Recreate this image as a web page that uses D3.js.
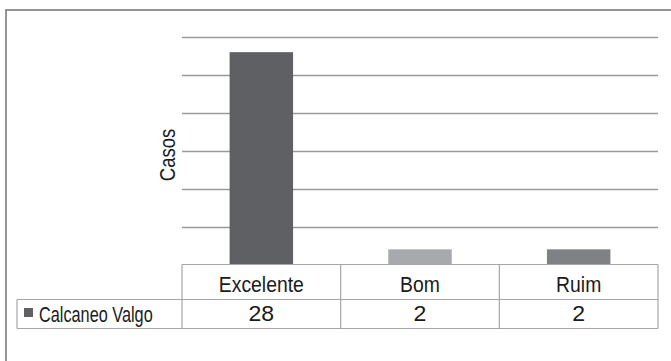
<!DOCTYPE html>
<html><head><meta charset="utf-8">
<script src="https://cdn.jsdelivr.net/npm/d3@7"></script>
<style>
html,body{margin:0;padding:0;background:#fff;}
svg{display:block;}
</style></head>
<body>
<svg id="c" width="671" height="361"></svg>
<script>
const categories = ["Excelente", "Bom", "Ruim"];
const seriesName = "Calcaneo Valgo";
const values = [28, 2, 2];
const barColors = ["#5f6064", "#a7a9ac", "#808184"];
const yTicks = [0, 5, 10, 15, 20, 25, 30];
const yTitle = "Casos";

const svg = d3.select("#c");
const font = "'Liberation Sans',Arial,sans-serif";

// outer frame
svg.append("rect").attr("x", 6).attr("y", 10).attr("width", 700).attr("height", 400)
  .attr("fill", "none").attr("stroke", "#7a7a7a").attr("stroke-width", 1.6);

const x = d3.scaleBand().domain(categories).range([182, 658]).padding(0);
const y = d3.scaleLinear().domain([0, 30]).range([264.5, 37]);

// gridlines
svg.append("g").selectAll("line").data(yTicks.filter(t => t > 0)).join("line")
  .attr("x1", 182).attr("x2", 658)
  .attr("y1", d => Math.round(y(d)) + 0.5).attr("y2", d => Math.round(y(d)) + 0.5)
  .attr("stroke", "#9a9a9a").attr("stroke-width", 1.3);

// bars
const bw = x.bandwidth();
svg.append("g").selectAll("rect").data(values).join("rect")
  .attr("x", (d, i) => x(categories[i]) + bw * 0.3)
  .attr("width", bw * 0.4)
  .attr("y", d => y(d))
  .attr("height", d => y(0) - y(d))
  .attr("fill", (d, i) => barColors[i]);

// y title
svg.append("text").attr("transform", "translate(175,155) rotate(-90) scale(0.84,1)")
  .attr("text-anchor", "middle").attr("font-family", font)
  .attr("font-size", 22).attr("fill", "#1a1a1a").text(yTitle);

// data table
const tTop = 264.5, tMid = 299.5, tBot = 328.5, tLeft = 17, colL = 182, colR = 658;
const tg = svg.append("g").attr("stroke", "#a6a6a6").attr("stroke-width", 1.2).attr("fill", "none");
tg.append("line").attr("x1", colL).attr("x2", colR).attr("y1", tTop).attr("y2", tTop);
tg.append("line").attr("x1", tLeft).attr("x2", colR).attr("y1", tMid).attr("y2", tMid);
tg.append("line").attr("x1", tLeft).attr("x2", colR).attr("y1", tBot).attr("y2", tBot);
tg.append("line").attr("x1", tLeft).attr("x2", tLeft).attr("y1", tMid).attr("y2", tBot);
const colEdges = categories.map(c => x(c)).concat([colR]);
tg.selectAll("line.v").data(colEdges).join("line").attr("class", "v")
  .attr("x1", d => d).attr("x2", d => d).attr("y1", tTop).attr("y2", tBot);

// header labels
svg.append("g").selectAll("text").data(categories).join("text")
  .attr("transform", d => `translate(${x(d) + bw / 2},292) scale(0.88,1)`)
  .attr("text-anchor", "middle").attr("font-family", font)
  .attr("font-size", 22).attr("fill", "#1a1a1a").text(d => d);

// values row
svg.append("g").selectAll("text").data(values).join("text")
  .attr("transform", (d, i) => `translate(${x(categories[i]) + bw / 2},321) scale(1.05,1)`)
  .attr("text-anchor", "middle").attr("font-family", font)
  .attr("font-size", 22).attr("fill", "#1a1a1a").text(d => d);

// legend key + series name
svg.append("rect").attr("x", 24).attr("y", 308).attr("width", 9).attr("height", 9).attr("fill", barColors[0]);
svg.append("text").attr("transform", "translate(39,321.5) scale(0.74,1)").attr("font-family", font)
  .attr("font-size", 22).attr("fill", "#1a1a1a").text(seriesName);
</script>
</body></html>
